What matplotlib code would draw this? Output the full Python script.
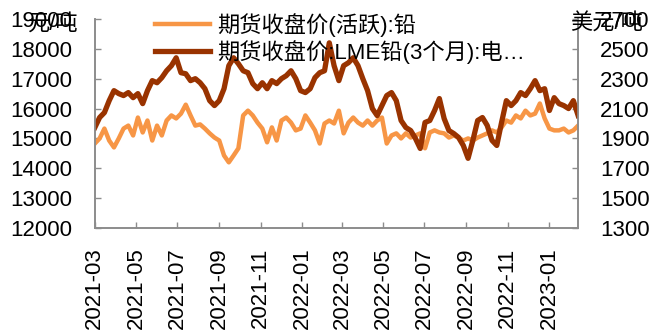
import matplotlib
matplotlib.use("Agg")
import matplotlib.pyplot as plt
import matplotlib.dates as mdates
import pandas as pd

plt.rcParams['font.family'] = ['Liberation Sans', 'Noto Sans CJK SC', 'DejaVu Sans']

# weekly samples, 2021-03 to mid Feb 2023
dates = pd.date_range('2021-03-01', '2023-02-13', periods=102)

# SHFE active lead, yuan/t (left axis)
shfe = [14830, 15000, 15330, 14930, 14700, 15000, 15330, 15430, 15100, 15700,
        15200, 15600, 14930, 15430, 15100, 15600, 15770, 15670, 15830, 16130,
        15770, 15430, 15470, 15330, 15170, 15030, 14930, 14430, 14200, 14430,
        14670, 15770, 15930, 15770, 15530, 15330, 14870, 15370, 14930, 15600,
        15700, 15530, 15270, 15330, 15770, 15530, 15270, 14830, 15500, 15600,
        15500, 15930, 15170, 15530, 15700, 15530, 15430, 15600, 15430, 15600,
        15700, 14830, 15100, 15170, 15000, 15170, 15030, 15100, 15170, 14670,
        15200, 15270, 15200, 15170, 15030, 15100, 15030, 14930, 15000, 14930,
        15030, 15100, 15170, 15270, 15200, 15370, 15600, 15530, 15770, 15670,
        15930, 15770, 15830, 16170, 15670, 15330, 15270, 15270, 15330, 15200,
        15270, 15430]

# LME 3M lead, usd/t (right axis)
lme = [1973, 2040, 2073, 2153, 2220, 2200, 2187, 2207, 2173, 2200,
       2133, 2220, 2287, 2273, 2307, 2353, 2387, 2440, 2340, 2333,
       2287, 2300, 2273, 2233, 2153, 2120, 2153, 2233, 2387, 2440,
       2400, 2353, 2340, 2267, 2233, 2273, 2233, 2287, 2267, 2300,
       2320, 2353, 2300, 2220, 2207, 2233, 2307, 2340, 2353, 2540,
       2387, 2287, 2387, 2407, 2440, 2387, 2300, 2220, 2100, 2053,
       2120, 2187, 2207, 2153, 2020, 1973, 1953, 1900, 1833, 2007,
       2020, 2087, 2167, 2033, 1953, 1933, 1907, 1853, 1767, 1887,
       2020, 2040, 1987, 1887, 1853, 2007, 2153, 2120, 2153, 2207,
       2187, 2233, 2287, 2220, 2233, 2087, 2173, 2133, 2120, 2100,
       2153, 2053]

label1 = '期货收盘价(活跃):铅'
label2 = '期货收盘价:LME铅(3个月):电…'

spine_c = '#8c8c8c'
fs = 16

fig = plt.figure(figsize=(6.54, 3.32), dpi=100)
ax = fig.add_axes([0.145, 0.313, 0.739, 0.63])
ax2 = ax.twinx()

l1, = ax.plot(dates, shfe, color='#F79646', lw=3.2, label=label1)
l2, = ax2.plot(dates, lme, color='#993300', lw=3.8, label=label2)

ax.set_ylim(12000, 19000)
ax.set_yticks(range(12000, 19001, 1000))
ax2.set_ylim(1300, 2700)
ax2.set_yticks(range(1300, 2701, 200))
ax.set_xlim(dates[0], dates[-1])

ticks = pd.date_range('2021-03-01', '2023-01-01', freq='2MS')
ax.set_xticks(ticks)
ax.xaxis.set_major_formatter(mdates.DateFormatter('%Y-%m'))

for a in (ax, ax2):
    a.spines['top'].set_visible(False)
    for s in ('left', 'right', 'bottom'):
        a.spines[s].set_color(spine_c)
        a.spines[s].set_linewidth(1.2)
    a.tick_params(direction='in', length=4.5, width=1.0, color=spine_c,
                  labelsize=fs, pad=16)
ax.tick_params(axis='x', rotation=90, pad=14)

fig.text(0.082, 0.928, '元/吨', fontsize=fs, ha='center', va='center')
fig.text(0.928, 0.928, '美元/吨', fontsize=fs, ha='center', va='center')

ax2.legend(handles=[l1, l2], loc='upper left', bbox_to_anchor=(0.213, 1.008),
           bbox_transform=fig.transFigure, frameon=False, fontsize=fs,
           handlelength=2.5, handletextpad=0.3, labelspacing=0.15,
           borderpad=0.2)

fig.savefig('out.png', dpi=100)
